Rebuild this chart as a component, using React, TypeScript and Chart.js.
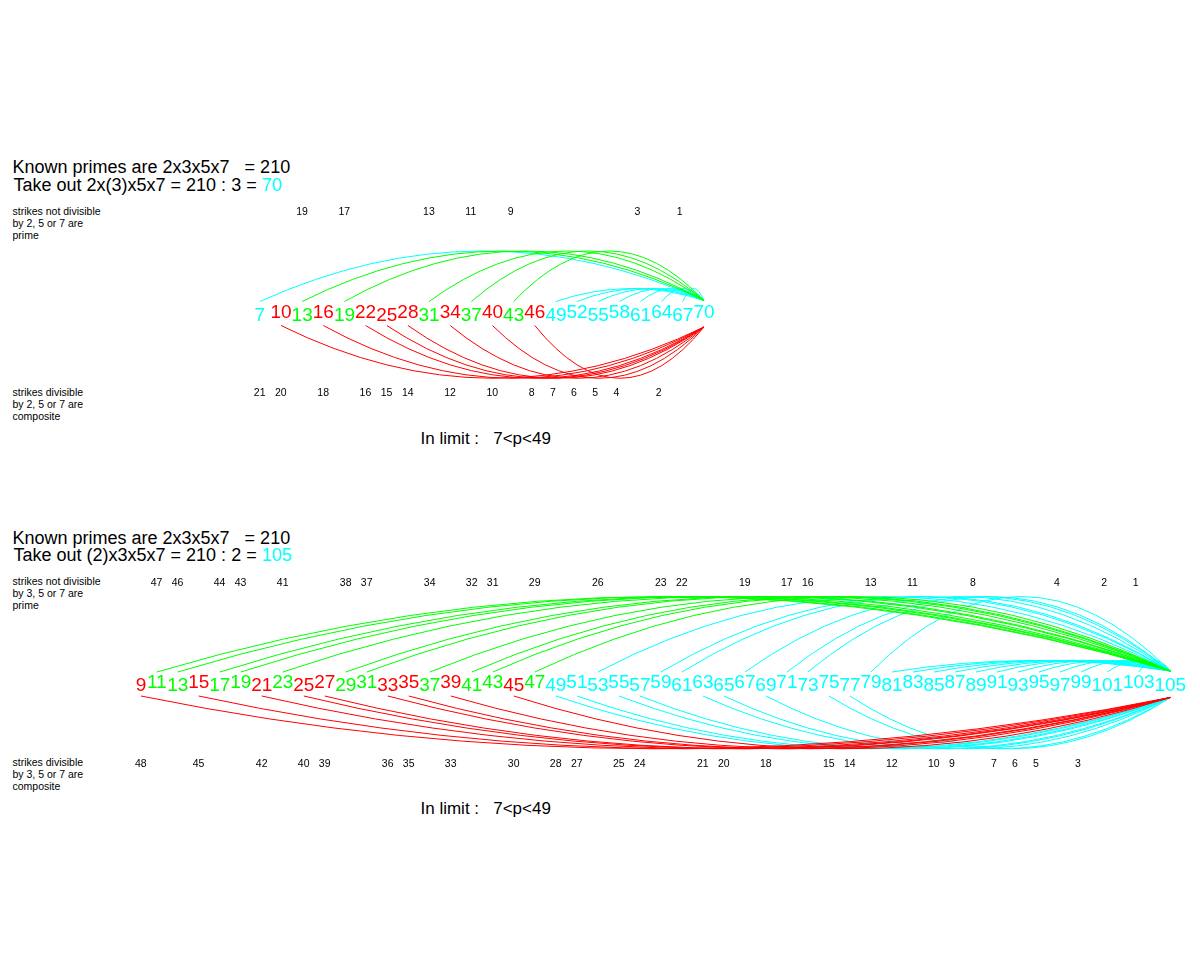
import React, { useEffect, useRef } from "react";
import { Chart, registerables } from "chart.js";

Chart.register(...registerables);

// ---------------- upper panel: take out 3 -> 70 ----------------
const TOP_NUMBERS = [7, 10, 13, 16, 19, 22, 25, 28, 31, 34, 37, 40, 43, 46, 49, 52, 55, 58, 61, 64, 67, 70];
const TOP_PRIMES = [13, 19, 31, 37, 43];
const TOP_COMPOSITES = [10, 16, 22, 25, 28, 34, 40, 46];
const TOP_LONG_ARCS = [7, 13, 19, 31, 37, 43];
const TOP_SHORT_ARCS = [49, 52, 55, 58, 61, 64, 67];
const TOP_BELOW_ARCS = [10, 16, 22, 25, 28, 34, 40, 46];
const TOP_STRIKES_ABOVE = [19, 17, 13, 11, 9, 3, 1];
const TOP_STRIKES_BELOW = [21, 20, 18, 16, 15, 14, 12, 10, 8, 7, 6, 5, 4, 2];
const TOP_STEP = 3;

// ---------------- lower panel: take out 2 -> 105 ----------------
const BOT_NUMBERS = [
  9, 11, 13, 15, 17, 19, 21, 23, 25, 27, 29, 31, 33, 35, 37, 39, 41, 43, 45, 47,
  49, 51, 53, 55, 57, 59, 61, 63, 65, 67, 69, 71, 73, 75, 77, 79, 81, 83, 85, 87,
  89, 91, 93, 95, 97, 99, 101, 103, 105,
];
const BOT_PRIMES = [11, 13, 17, 19, 23, 29, 31, 37, 41, 43, 47];
const BOT_COMPOSITES = [9, 15, 21, 25, 27, 33, 35, 39, 45];
const BOT_LONG_ARCS = [11, 13, 17, 19, 23, 29, 31, 37, 41, 43, 47, 53, 59, 61, 67, 71, 73, 79];
const BOT_SHORT_ARCS = [81, 83, 85, 87, 89, 91, 93, 95, 97, 99, 101, 103];
const BOT_BELOW_ARCS = [9, 15, 21, 25, 27, 33, 35, 39, 45, 49, 51, 55, 57, 63, 65, 69, 75, 77];
const BOT_STRIKES_ABOVE = [47, 46, 44, 43, 41, 38, 37, 34, 32, 31, 29, 26, 23, 22, 19, 17, 16, 13, 11, 8, 4, 2, 1];
const BOT_STRIKES_BELOW = [48, 45, 42, 40, 39, 36, 35, 33, 30, 28, 27, 25, 24, 21, 20, 18, 15, 14, 12, 10, 9, 7, 6, 5, 3];
const BOT_STEP = 2;

// ---------------- styling / layout ----------------
const CYAN = "#00ffff";
const RED = "#ff0000";
const GREEN = "#00ff00";
const FONT = "'Liberation Sans', Arial, Helvetica, sans-serif";
const HALF = 125;
const START_UP = 11;
const END_UP = 12;
const START_DOWN = 13;
const END_DOWN = 14.5;
const STRIKE_UP = 97.5;
const STRIKE_DOWN = 83.5;

type PanelCfg = {
  numbers: number[];
  primes: number[];
  composites: number[];
  longArcs: number[];
  shortArcs: number[];
  belowArcs: number[];
  strikesAbove: number[];
  strikesBelow: number[];
  step: number;
  minCells: number;
  xMin: number;
  xMax: number;
  rowY: number;
  longH: number;
  shortH: number;
  belowH: number;
};

const TOP_CFG: PanelCfg = {
  numbers: TOP_NUMBERS,
  primes: TOP_PRIMES,
  composites: TOP_COMPOSITES,
  longArcs: TOP_LONG_ARCS,
  shortArcs: TOP_SHORT_ARCS,
  belowArcs: TOP_BELOW_ARCS,
  strikesAbove: TOP_STRIKES_ABOVE,
  strikesBelow: TOP_STRIKES_BELOW,
  step: TOP_STEP,
  minCells: 2,
  xMin: -23.572,
  xMax: 89.903,
  rowY: 312.5,
  longH: 50,
  shortH: 12.5,
  belowH: 52,
};

const BOT_CFG: PanelCfg = {
  numbers: BOT_NUMBERS,
  primes: BOT_PRIMES,
  composites: BOT_COMPOSITES,
  longArcs: BOT_LONG_ARCS,
  shortArcs: BOT_SHORT_ARCS,
  belowArcs: BOT_BELOW_ARCS,
  strikesAbove: BOT_STRIKES_ABOVE,
  strikesBelow: BOT_STRIKES_BELOW,
  step: BOT_STEP,
  minCells: 1,
  xMin: -12.925,
  xMax: 101.328,
  rowY: 683,
  longH: 75,
  shortH: 11,
  belowH: 52,
};

function Panel({ cfg }: { cfg: PanelCfg }) {
  const ref = useRef<HTMLCanvasElement>(null);
  const top = Math.floor(cfg.rowY) - HALF;

  useEffect(() => {
    const canvas = ref.current;
    if (!canvas) return;
    const end = cfg.numbers[cfg.numbers.length - 1];
    const centers = new Map<number, number>();
    let acc = 0;
    cfg.numbers.forEach((n) => {
      const w = Math.max(cfg.minCells, String(n).length);
      centers.set(n, acc + w / 2);
      acc += w;
    });
    const colorOf = (n: number) =>
      cfg.primes.includes(n) ? GREEN : cfg.composites.includes(n) ? RED : CYAN;
    const frac = cfg.rowY - Math.floor(cfg.rowY);
    const yMax = HALF + frac;
    const yMin = yMax - 2 * HALF;

    const sievePlugin = {
      id: "sieveArcs",
      afterDatasetsDraw(chart: any) {
        const ctx: CanvasRenderingContext2D = chart.ctx;
        const xs = chart.scales.x;
        const ys = chart.scales.y;
        const X = (n: number) => xs.getPixelForValue(centers.get(n) as number);
        const Y = (v: number) => ys.getPixelForValue(v);
        ctx.save();
        ctx.lineWidth = 1;
        const arcs = [
          ...cfg.longArcs.map((n) => ({ n, up: true, h: cfg.longH })),
          ...cfg.shortArcs.map((n) => ({ n, up: true, h: cfg.shortH })),
          ...cfg.belowArcs.map((n) => ({ n, up: false, h: cfg.belowH })),
        ];
        arcs.sort(
          (a, b) => (colorOf(a.n) === CYAN ? 0 : 1) - (colorOf(b.n) === CYAN ? 0 : 1)
        );
        for (const a of arcs) {
          const s = a.up ? START_UP : -START_DOWN;
          const e = a.up ? END_UP : -END_DOWN;
          const cx = ((centers.get(a.n) as number) + (centers.get(end) as number)) / 2;
          const cy = (s + e) / 2 + (a.up ? 2 : -2) * a.h;
          ctx.strokeStyle = colorOf(a.n);
          ctx.beginPath();
          ctx.moveTo(X(a.n), Y(s));
          ctx.quadraticCurveTo(xs.getPixelForValue(cx), Y(cy), X(end), Y(e));
          ctx.stroke();
        }
        // the row of numbers
        ctx.font = `19px ${FONT}`;
        ctx.textAlign = "center";
        ctx.textBaseline = "alphabetic";
        const meta = chart.getDatasetMeta(0);
        meta.data.forEach((pt: any, i: number) => {
          const n = cfg.numbers[i];
          ctx.fillStyle = colorOf(n);
          ctx.fillText(String(n), pt.x, pt.y + (i % 2 ? -1.5 : 1.5) + 6.8);
        });
        // strike counts
        ctx.font = `10.5px ${FONT}`;
        ctx.textAlign = "left";
        ctx.fillStyle = "#000";
        cfg.strikesAbove.forEach((k) =>
          ctx.fillText(String(k), X(end - cfg.step * k) - 6, Y(STRIKE_UP))
        );
        cfg.strikesBelow.forEach((k) =>
          ctx.fillText(String(k), X(end - cfg.step * k) - 6, Y(-STRIKE_DOWN))
        );
        ctx.restore();
      },
    };

    const chart = new Chart(canvas, {
      type: "scatter",
      data: {
        datasets: [
          {
            data: cfg.numbers.map((n) => ({ x: centers.get(n) as number, y: 0 })),
            pointRadius: 0,
            showLine: false,
          },
        ],
      },
      options: {
        animation: false,
        responsive: false,
        maintainAspectRatio: false,
        events: [],
        layout: { padding: 0 },
        plugins: {
          legend: { display: false },
          tooltip: { enabled: false },
          title: { display: false },
        },
        scales: {
          x: { type: "linear", display: false, min: cfg.xMin, max: cfg.xMax },
          y: { type: "linear", display: false, min: yMin, max: yMax },
        },
      },
      plugins: [sievePlugin],
    });
    return () => chart.destroy();
  }, [cfg]);

  return (
    <canvas
      ref={ref}
      width={1200}
      height={2 * HALF}
      style={{ position: "absolute", left: 0, top, width: 1200, height: 2 * HALF }}
    />
  );
}

function Line({
  x,
  base,
  size,
  children,
}: {
  x: number;
  base: number;
  size: number;
  children: React.ReactNode;
}) {
  return (
    <div
      style={{
        position: "absolute",
        left: x,
        top: base - 0.8465 * size,
        fontSize: size,
        lineHeight: `${size}px`,
        whiteSpace: "pre",
        fontFamily: FONT,
        color: "#000",
      }}
    >
      {children}
    </div>
  );
}

function Texts({
  dy,
  takeOut,
  result,
  divisors,
}: {
  dy: number;
  takeOut: string;
  result: string;
  divisors: string;
}) {
  return (
    <>
      <Line x={12.5} base={173.5 + dy} size={18}>
        {"Known primes are 2x3x5x7   = 210"}
      </Line>
      <Line x={13.5} base={191 + dy} size={18}>
        {takeOut}
        <span style={{ color: CYAN }}>{result}</span>
      </Line>
      <Line x={12.5} base={214.5 + dy} size={10.5}>{"strikes not divisible"}</Line>
      <Line x={12.5} base={226.5 + dy} size={10.5}>{`by ${divisors} are`}</Line>
      <Line x={12.5} base={238.5 + dy} size={10.5}>{"prime"}</Line>
      <Line x={12.5} base={395.5 + dy} size={10.5}>{"strikes divisible"}</Line>
      <Line x={12.5} base={407.5 + dy} size={10.5}>{`by ${divisors} are`}</Line>
      <Line x={12.5} base={419.5 + dy} size={10.5}>{"composite"}</Line>
      <Line x={420.5} base={444 + dy} size={17}>{"In limit :   7<p<49"}</Line>
    </>
  );
}

export default function App() {
  return (
    <div
      style={{
        position: "absolute",
        left: 0,
        top: 0,
        width: 1200,
        height: 960,
        background: "#fff",
        overflow: "hidden",
      }}
    >
      <Texts dy={0} takeOut={"Take out 2x(3)x5x7 = 210 : 3 = "} result="70" divisors="2, 5 or 7" />
      <Texts dy={370.5} takeOut={"Take out (2)x3x5x7 = 210 : 2 = "} result="105" divisors="3, 5 or 7" />
      <Panel cfg={TOP_CFG} />
      <Panel cfg={BOT_CFG} />
    </div>
  );
}
